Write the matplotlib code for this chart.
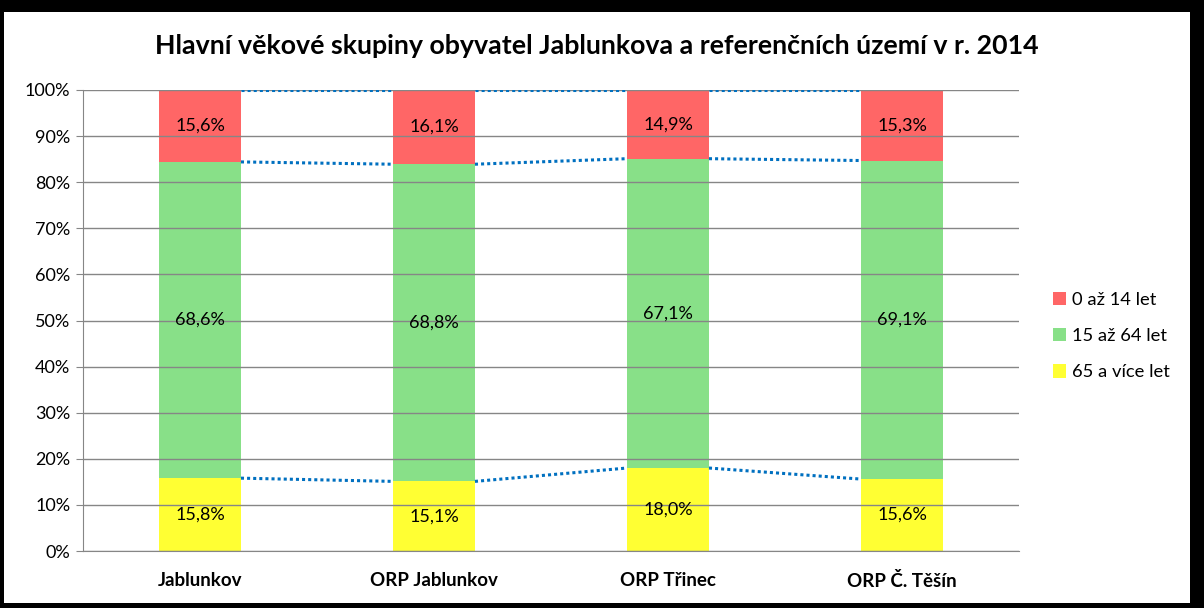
import numpy as np
import matplotlib
matplotlib.use("Agg")
import matplotlib.pyplot as plt
from matplotlib.patches import Rectangle

plt.rcParams['font.family'] = ['Lato', 'DejaVu Sans']

categories = ["Jablunkov", "ORP Jablunkov", "ORP Třinec", "ORP Č. Těšín"]
seniors = [15.8, 15.1, 18.0, 15.6]      # 65 a více let
working = [68.6, 68.8, 67.1, 69.1]      # 15 až 64 let
children = [15.6, 16.1, 14.9, 15.3]     # 0 až 14 let
title = "Hlavní věkové skupiny obyvatel Jablunkova a referenčních území v r. 2014"

colors = {"children": "#FF6666", "working": "#88E088", "seniors": "#FFFF33"}

fig = plt.figure(figsize=(12.04, 6.08), dpi=100)
# black frame around the chart, like the exported Excel picture
fig.patches.append(Rectangle((0, 0), 1, 1, transform=fig.transFigure,
                             facecolor="black", zorder=-10))
fig.patches.append(Rectangle((4 / 1204, 5 / 608), (1190 - 4) / 1204, (596 - 5) / 608,
                             transform=fig.transFigure, facecolor="white", zorder=-9))

ax = fig.add_axes([83 / 1204, (608 - 551) / 608, (1019 - 83) / 1204, (551 - 90) / 608])
ax.set_facecolor("none")

x = np.arange(len(categories))
width = 0.35
s = np.array(seniors)
w = np.array(working)
c = np.array(children)

ax.bar(x, s, width, color=colors["seniors"], label="65 a více let", zorder=1)
ax.bar(x, w, width, bottom=s, color=colors["working"], label="15 až 64 let", zorder=1)
ax.bar(x, c, width, bottom=s + w, color=colors["children"], label="0 až 14 let", zorder=1)

# series lines between the stacks
for level in (s, s + w, s + w + c):
    for i in range(len(x) - 1):
        ax.plot([x[i] + width / 2, x[i + 1] - width / 2], [level[i], level[i + 1]],
                color="#0070C0", linestyle=(0, (1, 1)), linewidth=2.2, zorder=3)

# value labels
for i in range(len(x)):
    for bottom, val in ((0, s[i]), (s[i], w[i]), (s[i] + w[i], c[i])):
        ax.text(x[i], bottom + val / 2, f"{val:.1f}%".replace(".", ","),
                ha="center", va="center", fontsize=13, color="black", zorder=4)

ax.set_xlim(-0.5, len(x) - 0.5)
ax.set_ylim(0, 100)
ax.set_yticks(np.arange(0, 101, 10))
ax.set_yticklabels([f"{v}%" for v in range(0, 101, 10)], fontsize=13)
ax.set_xticks(x)
ax.set_xticklabels(categories, fontsize=13.5, fontweight="bold")
ax.tick_params(axis="x", length=0, pad=15)
ax.tick_params(axis="y", length=5, color="#868686", pad=4)
ax.yaxis.grid(True, color="#868686", linewidth=1, zorder=2)
ax.set_axisbelow(False)
for sp in ("top", "right"):
    ax.spines[sp].set_visible(False)
for sp in ("left", "bottom"):
    ax.spines[sp].set_color("#868686")

handles, labels = ax.get_legend_handles_labels()
fig.legend(handles[::-1], labels[::-1], loc="center left",
           bbox_to_anchor=(1036 / 1204, 1 - 336 / 608), frameon=False,
           fontsize=13.2, handlelength=0.75, handleheight=0.75, handletextpad=0.3,
           labelspacing=1.1)

fig.text(0.5 * (4 + 1190) / 1204, 1 - 46 / 608, title, ha="center", va="center",
         fontsize=19.3, fontweight="bold")

fig.savefig("out.png", dpi=100)
